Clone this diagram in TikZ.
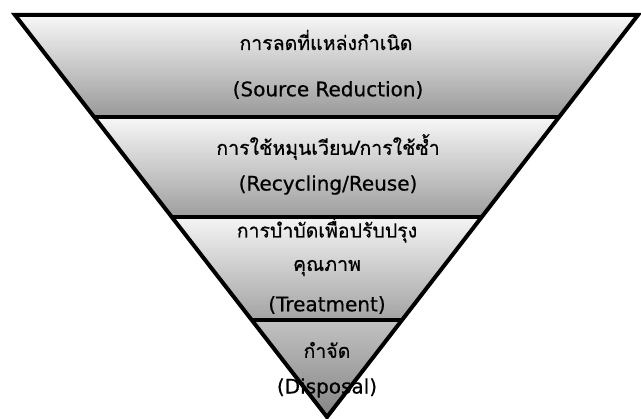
\documentclass[tikz,border=0pt]{standalone}
\usepackage{fontspec}
\setmainfont[FakeBold=0.6]{DejaVu Sans}
\newfontfamily\thaifont[Script=Thai,FakeBold=0.6]{Loma}
\usetikzlibrary{calc}
\tikzset{
  band/.style={draw=none},
  edge/.style={line width=4pt, line join=miter, black},
  lbl/.style={inner sep=0pt, text=black, font=\fontsize{20}{24}\selectfont},
  thlbl/.style={lbl, font=\fontsize{19.5}{24}\selectfont\thaifont},
}
\begin{document}
\begin{tikzpicture}[x=1pt,y=-1pt]
\useasboundingbox (0,0) rectangle (641,419);
\coordinate (A) at (15,15);
\coordinate (B) at (638,15);
\coordinate (C) at (327,417);
\coordinate (l1) at ($(A)!{102/402}!(C)$);
\coordinate (r1) at ($(B)!{102/402}!(C)$);
\coordinate (l2) at ($(A)!{202/402}!(C)$);
\coordinate (r2) at ($(B)!{202/402}!(C)$);
\coordinate (l3) at ($(A)!{305/402}!(C)$);
\coordinate (r3) at ($(B)!{305/402}!(C)$);
% bands
\shade[band, top color=black!3, bottom color=black!40] (A) -- (B) -- (r1) -- (l1) -- cycle;
\shade[band, top color=black!3, bottom color=black!38] (l1) -- (r1) -- (r2) -- (l2) -- cycle;
\shade[band, top color=black!4, bottom color=black!36] (l2) -- (r2) -- (r3) -- (l3) -- cycle;
\shade[band, top color=black!24, bottom color=black!48] (l3) -- (r3) -- (C) -- cycle;
% labels
\node[thlbl] (t1a) at (326,40) {การลดที่แหล่งกำเนิด};
\node[lbl] (t1b) at (328,90) {(Source Reduction)};
\node[thlbl] (t2a) at (328,147) {การใช้หมุนเวียน/การใช้ซ้ำ};
\node[lbl] (t2b) at (328,185) {(Recycling/Reuse)};
\node[thlbl] (t3a) at (327,230) {การบำบัดเพื่อปรับปรุง};
\node[thlbl] (t3b) at (327,268) {คุณภาพ};
\node[lbl] (t3c) at (327,305) {(Treatment)};
\node[thlbl] (t4a) at (327,350) {กำจัด};
\node[lbl] (t4b) at (327,388) {(Disposal)};
% outlines
\draw[edge] (l1) -- (r1);
\draw[edge] (l2) -- (r2);
\draw[edge] (l3) -- (r3);
\draw[edge] (A) -- (B) -- (C) -- cycle;
\end{tikzpicture}
\end{document}
